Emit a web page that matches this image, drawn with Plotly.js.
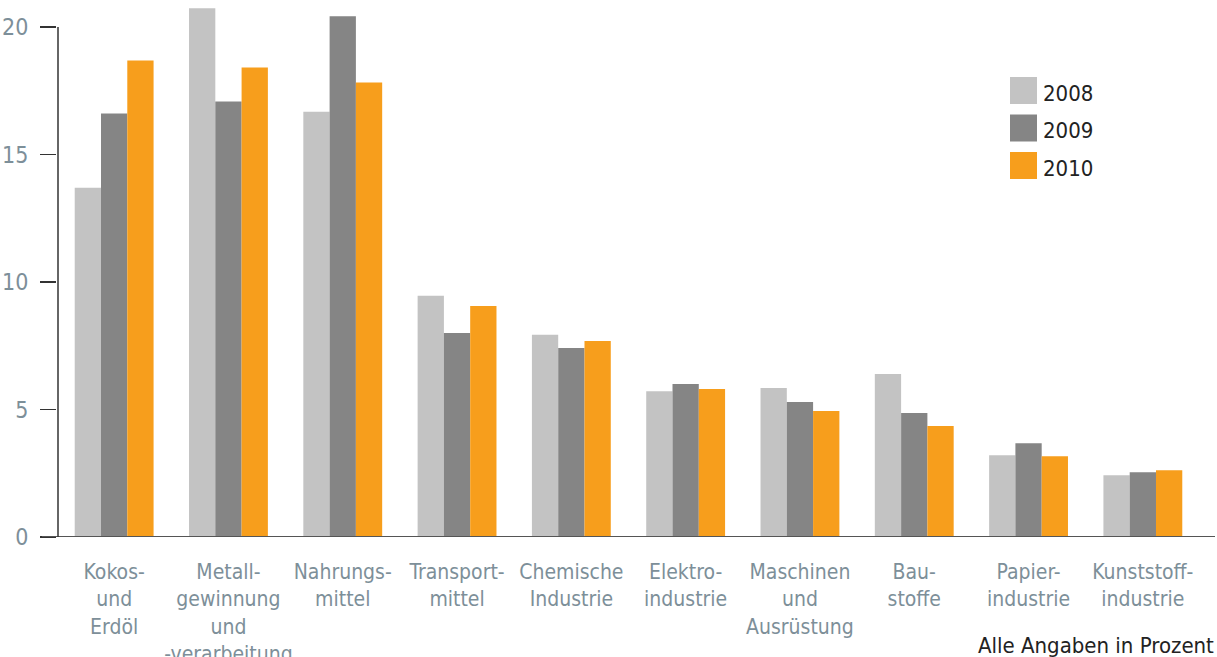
<!DOCTYPE html>
<html>
<head>
<meta charset="utf-8">
<script src="https://cdn.plot.ly/plotly-3.0.1.min.js"></script>
<style>
  html, body { margin: 0; padding: 0; background: #ffffff; }
  #chart { width: 1217px; height: 657px; }
</style>
</head>
<body>
<div id="chart"></div>
<script>
// ---- Data ----
const categories = [
  "Kokos-<br>und<br>Erdöl",
  "Metall-<br>gewinnung<br>und<br>-verarbeitung",
  "Nahrungs-<br>mittel",
  "Transport-<br>mittel",
  "Chemische<br>Industrie",
  "Elektro-<br>industrie",
  "Maschinen<br>und<br>Ausrüstung",
  "Bau-<br>stoffe",
  "Papier-<br>industrie",
  "Kunststoff-<br>industrie"
];
const years = ["2008", "2009", "2010"];
const values2008 = [13.7, 20.74, 16.68, 9.46, 7.93, 5.72, 5.84, 6.39, 3.21, 2.42];
const values2009 = [16.61, 17.08, 20.42, 8.00, 7.41, 6.00, 5.29, 4.86, 3.68, 2.54];
const values2010 = [18.69, 18.41, 17.82, 9.06, 7.69, 5.80, 4.94, 4.35, 3.17, 2.62];
const yTickValues = [0, 5, 10, 15, 20];
const footnote = "Alle Angaben in Prozent";

// ---- Styles ----
const colors = ["#c3c3c3", "#858585", "#f79e1c"];
const FONT = "'Liberation Sans Narrow', 'DejaVu Sans Condensed', 'Roboto Condensed', sans-serif";
const labelColor = "#7d8f99";

const series = [values2008, values2009, values2010];
const xIdx = categories.map((_, i) => i);

const traces = series.map((vals, k) => ({
  type: "bar",
  name: years[k],
  x: xIdx,
  y: vals,
  marker: { color: colors[k], line: { width: 0 } },
  showlegend: false,
  hoverinfo: "x+y+name"
}));

const W = 1217, H = 657;
const margin = { l: 57, r: 17, t: 1, b: 120, pad: 0 };
const pw = W - margin.l - margin.r;
const ph = H - margin.t - margin.b;
const px2x = p => (p - margin.l) / pw;
const px2y = p => (H - margin.b - p) / ph;

const shapes = [];
const annotations = [];

shapes.push({
  type: "line", xref: "paper", yref: "y",
  x0: px2x(42), x1: px2x(1215), y0: 0, y1: 0,
  line: { color: "#555555", width: 2 }
});
shapes.push({
  type: "line", xref: "paper", yref: "y",
  x0: px2x(58), x1: px2x(58), y0: 0, y1: 20,
  line: { color: "#333333", width: 1.5 }
});

years.forEach((yr, k) => {
  const top = 77 + k * 37.5;
  shapes.push({
    type: "rect", xref: "paper", yref: "paper",
    x0: px2x(1010), x1: px2x(1037), y0: px2y(top + 27), y1: px2y(top),
    fillcolor: colors[k], line: { width: 0 }
  });
  annotations.push({
    xref: "paper", yref: "paper",
    x: px2x(1041), y: px2y(top + 16),
    xanchor: "left", yanchor: "middle",
    text: yr, showarrow: false,
    font: { family: FONT, size: 22, color: "#222222" }
  });
});

annotations.push({
  xref: "paper", yref: "paper",
  x: px2x(1216), y: px2y(660),
  xanchor: "right", yanchor: "bottom",
  text: footnote, showarrow: false,
  font: { family: FONT, size: 22, color: "#222222" }
});

const layout = {
  width: W, height: H,
  margin: margin,
  paper_bgcolor: "#ffffff",
  plot_bgcolor: "#ffffff",
  barmode: "group",
  bargap: 0.31,
  bargroupgap: 0,
  showlegend: false,
  font: { family: FONT, size: 21, color: labelColor },
  xaxis: {
    range: [-0.5, 9.5],
    tickmode: "array",
    tickvals: xIdx,
    ticktext: categories,
    tickangle: 0,
    automargin: false,
    ticks: "",
    showline: false,
    showgrid: false,
    zeroline: false,
    ticklabelstandoff: 20,
    tickfont: { family: FONT, size: 21, color: labelColor },
    fixedrange: true
  },
  yaxis: {
    range: [0, 21.02],
    tickmode: "array",
    tickvals: yTickValues,
    ticktext: yTickValues.map(String),
    ticks: "outside",
    ticklen: 16,
    tickwidth: 1.5,
    tickcolor: "#333333",
    automargin: false,
    showline: false,
    showgrid: false,
    zeroline: false,
    ticklabelstandoff: 7,
    tickfont: { family: FONT, size: 23, color: labelColor },
    fixedrange: true
  },
  shapes: shapes,
  annotations: annotations
};

Plotly.newPlot("chart", traces, layout, { displayModeBar: false, staticPlot: true });
</script>
</body>
</html>
